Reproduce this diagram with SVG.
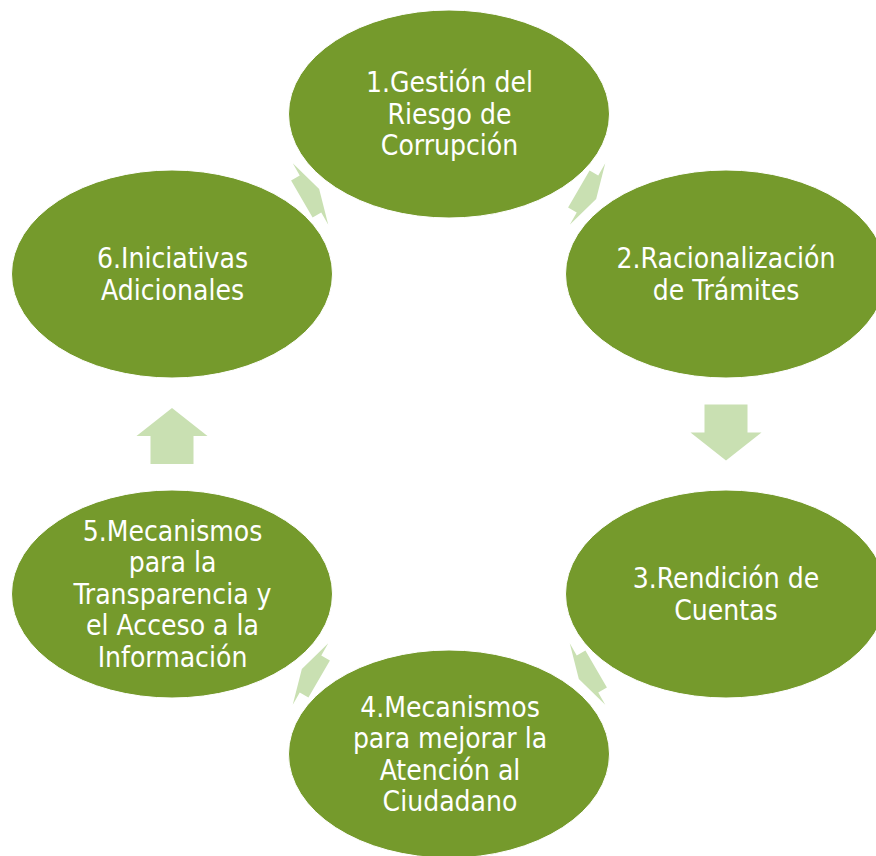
<svg xmlns="http://www.w3.org/2000/svg" width="876" height="856" viewBox="0 0 876 856">
<style>
.node{fill:#759A2C;stroke:#FFFFFF;stroke-width:1}
.lbl{font-family:"DejaVu Sans Condensed","DejaVu Sans",sans-serif;font-stretch:condensed;font-size:28px;fill:#FFFFFF;text-anchor:middle}
.arr{fill:#C9E0B2}
</style>
<defs>
<polygon id="longArrow" points="-28,-21.5 0,-21.5 0,-35.5 28,0 0,35.5 0,21.5 -28,21.5"/>
<polygon id="shortArrow" points="-10,-21.5 0,-21.5 0,-35.5 10,0 0,35.5 0,21.5 -10,21.5"/>
</defs>
<rect width="876" height="856" fill="#FFFFFF"/>
<g id="connectors" class="arr">
<use href="#shortArrow" transform="translate(587.5,194) rotate(30)"/>
<use href="#longArrow" transform="translate(726,432.5) rotate(90)"/>
<use href="#shortArrow" transform="translate(587.5,674) rotate(150)"/>
<use href="#shortArrow" transform="translate(310.5,674) rotate(210)"/>
<use href="#longArrow" transform="translate(172,436) rotate(270)"/>
<use href="#shortArrow" transform="translate(310.5,194) rotate(330)"/>
</g>
<g id="node1">
<ellipse class="node" cx="449" cy="114" rx="160.5" ry="104"/>
<text class="lbl"><tspan x="449.5" y="92">1.Gestión del</tspan><tspan x="449.5" y="123.5">Riesgo de</tspan><tspan x="449.5" y="155">Corrupción</tspan></text>
</g>
<g id="node2">
<ellipse class="node" cx="726" cy="274" rx="160.5" ry="104"/>
<text class="lbl"><tspan x="726" y="268">2.Racionalización</tspan><tspan x="726" y="299.5">de Trámites</tspan></text>
</g>
<g id="node3">
<ellipse class="node" cx="726" cy="594" rx="160.5" ry="104"/>
<text class="lbl"><tspan x="726" y="588">3.Rendición de</tspan><tspan x="726" y="619.5">Cuentas</tspan></text>
</g>
<g id="node4">
<ellipse class="node" cx="449" cy="754" rx="160.5" ry="104"/>
<text class="lbl"><tspan x="450" y="716.5">4.Mecanismos</tspan><tspan x="450" y="748">para mejorar la</tspan><tspan x="450" y="779.5">Atención al</tspan><tspan x="450" y="811">Ciudadano</tspan></text>
</g>
<g id="node5">
<ellipse class="node" cx="172" cy="594" rx="160.5" ry="104"/>
<text class="lbl"><tspan x="172.5" y="540.5">5.Mecanismos</tspan><tspan x="172.5" y="572">para la</tspan><tspan x="172.5" y="603.5">Transparencia y</tspan><tspan x="172.5" y="635">el Acceso a la</tspan><tspan x="172.5" y="666.5">Información</tspan></text>
</g>
<g id="node6">
<ellipse class="node" cx="172" cy="274" rx="160.5" ry="104"/>
<text class="lbl"><tspan x="172.5" y="268">6.Iniciativas</tspan><tspan x="172.5" y="299.5">Adicionales</tspan></text>
</g>
</svg>
